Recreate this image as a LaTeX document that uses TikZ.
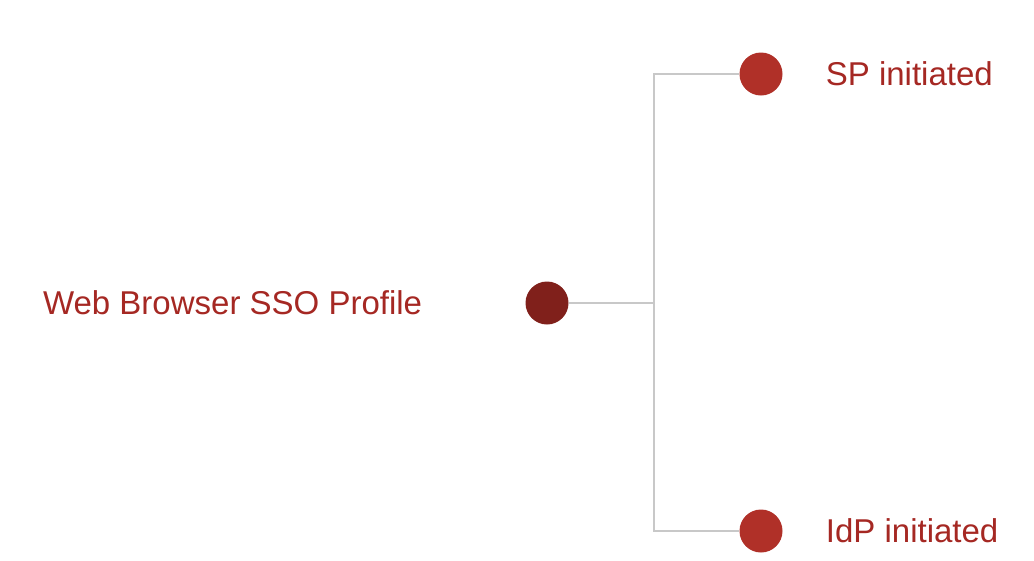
\documentclass[tikz,border=0pt]{standalone}
\usepackage{fontspec}
\setmainfont{Liberation Sans}
\usetikzlibrary{positioning}
\definecolor{rootred}{RGB}{128,32,27}
\definecolor{leafred}{RGB}{176,48,40}
\definecolor{labelred}{RGB}{165,40,35}
\definecolor{linegray}{RGB}{200,200,200}

\begin{document}
\begin{tikzpicture}[x=1pt,y=-1pt,dot/.style={circle,inner sep=0pt,minimum size=43pt},label text/.style={inner sep=0pt,text=labelred,font=\fontsize{33}{40}\selectfont},branch/.style={draw=linegray,line width=2pt}]
	\useasboundingbox (0,0) rectangle (1034,560);
	\node[dot,fill=rootred] (root) at (547,303) {};
	\node[dot,fill=leafred] (sp) at (761,74) {};
	\node[dot,fill=leafred] (idp) at (761,531) {};
	\node[label text,left=103pt of root] (rootlabel) {Web Browser SSO Profile};
	\node[label text,right=43pt of sp] (splabel) {SP initiated};
	\node[label text,right=43pt of idp] (idplabel) {IdP initiated};
	\coordinate (fork) at (654,303);
	\draw[branch] (root.east) -- (fork);
	\draw[branch] (sp.west) -| (fork) |- (idp.west);
\end{tikzpicture}
\end{document}
